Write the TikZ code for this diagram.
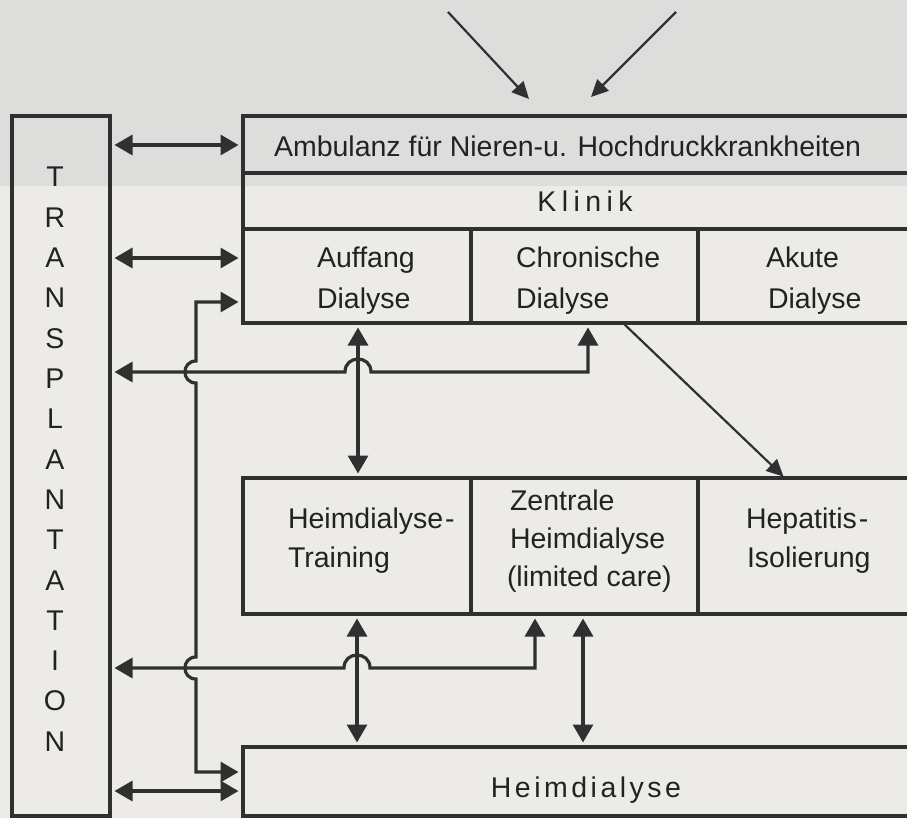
\documentclass[tikz,border=0pt]{standalone}
\usepackage{fontspec}
\setmainfont{Liberation Sans}
\usetikzlibrary{arrows.meta}
\definecolor{ink}{HTML}{303030}
\definecolor{inkt}{HTML}{222222}
\definecolor{paper}{HTML}{ECEBE7}
\definecolor{paperb}{HTML}{DDDDDC}
\newcommand\lblfont{\fontsize{28.5}{34}\selectfont}
\newcommand\ks{\kern5.4pt}
\newcommand\kh{\kern3.5pt}
\begin{document}
\begin{tikzpicture}[x=1pt,y=-1pt,
  box/.style={draw=ink, line width=3.8pt, inner sep=0pt, outer sep=0pt, anchor=north west},
  lab/.style={text=inkt, inner sep=0pt, outer sep=0pt, anchor=base west, font=\lblfont},
  conn/.style={draw=ink, line width=3.2pt, shorten <=4.5pt, shorten >=4.5pt},
  dbl/.style={conn, {Triangle[length=18pt,width=20pt]}-{Triangle[length=18pt,width=20pt]}},
  thinarrow/.style={draw=ink, line width=2.2pt, shorten >=2pt, -{Triangle[length=17pt,width=16pt]}}]
\useasboundingbox (0,0) rectangle (907,818);
\clip (0,0) rectangle (907,818);
\fill[paper] (0,0) rectangle (907,818);
\fill[paperb] (0,0) rectangle (907,186);

% boxes
\node[box, minimum width=98pt, minimum height=700pt] (trans) at (12,116) {};
\node[box, minimum width=682pt, minimum height=57pt] (amb) at (243,116) {};
\node[box, minimum width=682pt, minimum height=56pt] (klinik) at (243,173) {};
\node[box, minimum width=228pt, minimum height=94pt] (auffang) at (243,229) {};
\node[box, minimum width=227pt, minimum height=94pt] (chron) at (471,229) {};
\node[box, minimum width=227pt, minimum height=94pt] (akute) at (698,229) {};
\node[box, minimum width=228pt, minimum height=136pt] (training) at (243,478) {};
\node[box, minimum width=227pt, minimum height=136pt] (zentrale) at (471,478) {};
\node[box, minimum width=227pt, minimum height=136pt] (hepat) at (698,478) {};
\node[box, minimum width=682pt, minimum height=69pt] (heim) at (243,747) {};

% labels
\foreach \l [count=\i from 0] in {T,R,A,N,S,P,L,A,N,T,A,T,I,O,N}
  \node[lab, anchor=base] (tl\i) at (55,{187+40.3*\i}) {\l};
\node[lab] (tamb) at (274,157) {Ambulanz für Nieren-u. Hochdruckkrankheiten};
\node[lab, anchor=base] (tkli) at (585,212) {K\ks l\ks i\ks n\ks i\ks k};
\node[lab] (tauf1) at (317,268) {Auffang};
\node[lab] (tauf2) at (317,308) {Dialyse};
\node[lab] (tchr1) at (516,268) {Chronische};
\node[lab] (tchr2) at (516,308) {Dialyse};
\node[lab] (taku1) at (766,268) {Akute};
\node[lab] (taku2) at (768,308) {Dialyse};
\node[lab] (ttra1) at (288,528) {Heimdialyse\kern2pt-};
\node[lab] (ttra2) at (288,567) {Training};
\node[lab] (tzen1) at (510,510) {Zentrale};
\node[lab] (tzen2) at (510,548) {Heimdialyse};
\node[lab] (tzen3) at (507,586) {(limited care)};
\node[lab] (thep1) at (746,528) {Hepatitis\kern2pt-};
\node[lab] (thep2) at (747,567) {Isolierung};
\node[lab, anchor=base] (theim) at (586,797) {H\kh e\kh i\kh m\kh d\kh i\kh a\kh l\kh y\kh s\kh e};

% incoming arrows at the top
\coordinate (src1) at (448,12);
\coordinate (src2) at (676,12);
\coordinate (tip1) at (529,99);
\coordinate (tip2) at (591,97);
\draw[thinarrow, shorten >=0pt] (src1) -- (tip1);
\draw[thinarrow, shorten >=0pt] (src2) -- (tip2);

% transplantation links
\draw[dbl] (trans.east |- 0,145) -- (amb.west |- 0,145);
\draw[dbl] (trans.east |- 0,258) -- (auffang.west |- 0,258);
\draw[dbl] (trans.east |- 0,791) -- (heim.west |- 0,791);

% Auffang <-> Heimdialyse (with hops)
\draw[dbl] (auffang.west |- 0,302) -- (196,302) -- (196,361)
  .. controls (181.3,361) and (181.3,383) .. (196,383) -- (196,657)
  .. controls (181.3,657) and (181.3,679) .. (196,679) -- (196,772)
  -- (heim.west |- 0,772);

% Chronische <-> Transplantation
\draw[dbl] (chron.south -| 588,0) -- (588,372) -- (371,372)
  .. controls (371,354.7) and (345,354.7) .. (345,372) -- (trans.east |- 0,372);

% Zentrale <-> Transplantation
\draw[dbl] (zentrale.south -| 535,0) -- (535,668) -- (370,668)
  .. controls (370,650.7) and (344,650.7) .. (344,668) -- (trans.east |- 0,668);

% vertical links
\draw[dbl] (auffang.south -| 358,0) -- (training.north -| 358,0);
\draw[dbl] (training.south -| 357,0) -- (heim.north -| 357,0);
\draw[dbl] (zentrale.south -| 583,0) -- (heim.north -| 583,0);

% Chronische -> Hepatitis
\draw[thinarrow] (chron.south -| 623,0) -- (hepat.north -| 785,0);
\end{tikzpicture}
\end{document}
